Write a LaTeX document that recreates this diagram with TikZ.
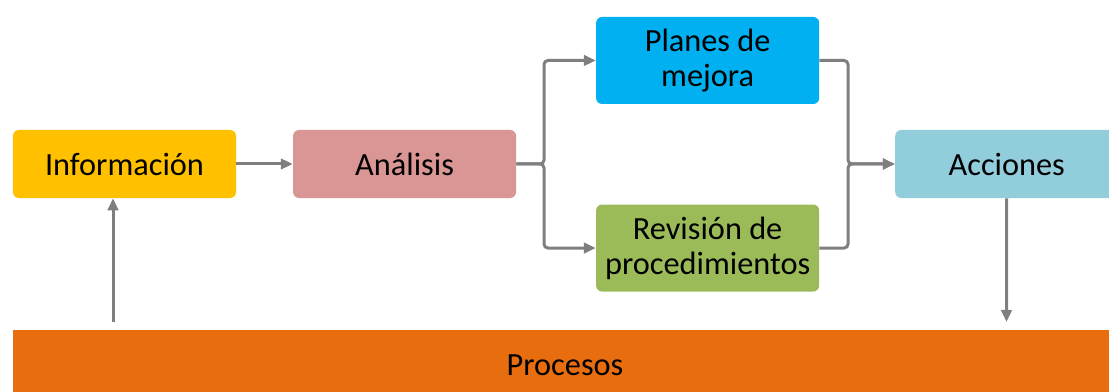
\documentclass[tikz,border=0pt]{standalone}
\usepackage{fontspec}
\setmainfont{Carlito}
\usepackage{tikz}
\usetikzlibrary{shapes,arrows,arrows.meta}
\definecolor{infocol}{HTML}{FFC000}
\definecolor{analcol}{HTML}{D99694}
\definecolor{planescol}{HTML}{00B0F0}
\definecolor{revcol}{HTML}{9BBB59}
\definecolor{acccol}{HTML}{92CDDC}
\definecolor{proccol}{HTML}{E86D0E}
\definecolor{arrowcol}{HTML}{7F7F7F}
\tikzstyle{block} = [rectangle, text centered, rounded corners=0.15cm,
    minimum width=5.575cm, minimum height=1.7cm, inner sep=0pt,
    font=\fontsize{23}{25}\selectfont]
\tikzstyle{tallblock} = [block, align=center, minimum height=2.175cm]
\tikzstyle{bar} = [rectangle, minimum width=27.6cm, minimum height=1.75cm,
    font=\fontsize{23}{25}\selectfont]
\tikzstyle{line} = [draw, arrowcol, line width=0.075cm,
    -{Triangle[length=0.3cm, width=0.26cm]}]

\begin{document}
\begin{tikzpicture}[x=0.025cm, y=-0.025cm, node distance = 7cm]
    \useasboundingbox (0,0) rectangle (1109,392);
    \clip (0,0) rectangle (1109,392);
    % Place nodes
    \node [block, fill=infocol] (info) at (124.5,164) {Información};
    \node [block, fill=analcol, right of=info] (analisis) {Análisis};
    \node [tallblock, fill=planescol, right of=analisis, node distance=7.575cm, yshift=2.5875cm] (planes) {Planes de\\mejora};
    \node [tallblock, fill=revcol, below of=planes, node distance=4.6875cm] (revision) {Revisión de\\procedimientos};
    \node [block, fill=acccol, right of=analisis, node distance=15.05cm] (acciones) {Acciones};
    \node [bar, fill=proccol] (procesos) at (565,365) {Procesos};
    % free ends and joints
    \coordinate (split) at (544,164);
    \coordinate (merge) at (848,164);
    \coordinate (feedback) at (113,322);
    \coordinate (result) at (1006.5,322);
    % Draw edges
    \path [line] (info) -- (analisis);
    \path [line, rounded corners=0.1cm] (analisis.east) -- (split) |- (planes.west);
    \path [line, rounded corners=0.1cm] (analisis.east) -- (split) |- (revision.west);
    \path [line, rounded corners=0.1cm] (planes.east) -| (merge) -- (acciones.west);
    \path [line, rounded corners=0.1cm] (revision.east) -| (merge) -- (acciones.west);
    \path [line] (feedback) -- (feedback |- info.south);
    \path [line] (acciones) -- (result);
\end{tikzpicture}
\end{document}
